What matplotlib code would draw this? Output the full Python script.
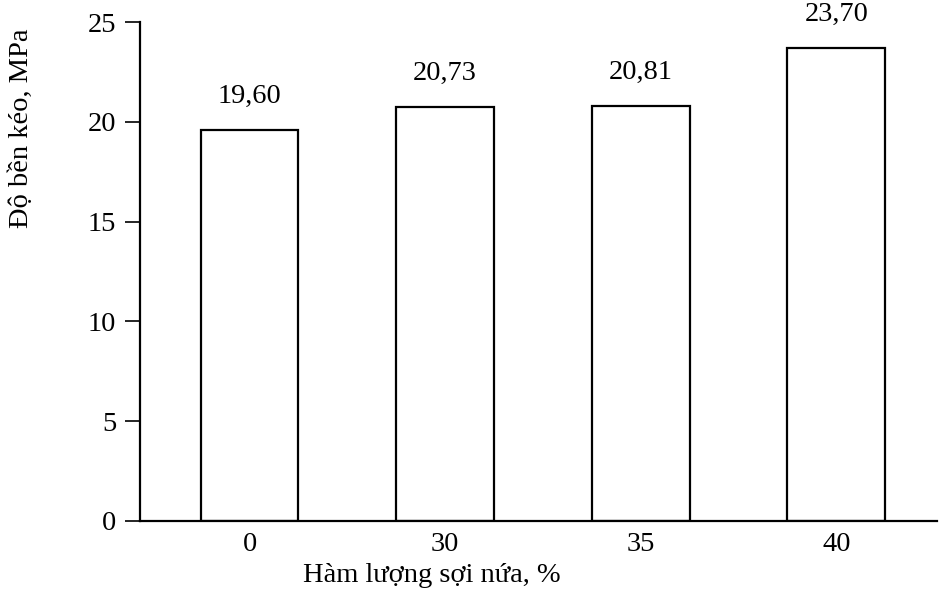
import matplotlib
matplotlib.use("Agg")
import matplotlib.pyplot as plt

categories = ["0", "30", "35", "40"]
values = [19.60, 20.73, 20.81, 23.70]
value_labels = ["19,60", "20,73", "20,81", "23,70"]
yticks = [0, 5, 10, 15, 20, 25]

plt.rcParams['font.family'] = ['Liberation Serif', 'DejaVu Serif']
FS = 20.5

fig = plt.figure(figsize=(9.41, 5.95), dpi=100)
ax = fig.add_axes([140/941, 74/595, (937-140)/941, (573-74)/595])

x = list(range(len(categories)))
ax.bar(x, values, width=0.5, facecolor='white', edgecolor='black', linewidth=1.6)

for xi, v, lab in zip(x, values, value_labels):
    ax.annotate(lab, (xi, v), xytext=(0, 15), textcoords='offset points',
                ha='center', va='bottom', fontsize=FS, clip_on=False)

ax.set_xlim(-0.56, 3.515)
ax.set_ylim(0, 25)
ax.set_xticks(x)
ax.set_xticklabels(categories)
ax.set_yticks(yticks)
ax.tick_params(axis='x', length=0, pad=8, labelsize=FS)
ax.tick_params(axis='y', length=11, width=1.2, pad=6, labelsize=FS, direction='out')

for s in ['top', 'right']:
    ax.spines[s].set_visible(False)
for s in ['left', 'bottom']:
    ax.spines[s].set_linewidth(1.6)

fig.text(21/941, 1 - 128/595, "Độ bền kéo, MPa", rotation=90, ha='center', va='center', fontsize=FS)
fig.text(432/941, 1 - 576/595, "Hàm lượng sợi nứa, %", ha='center', va='center', fontsize=FS)

fig.savefig("out.png", dpi=100)
